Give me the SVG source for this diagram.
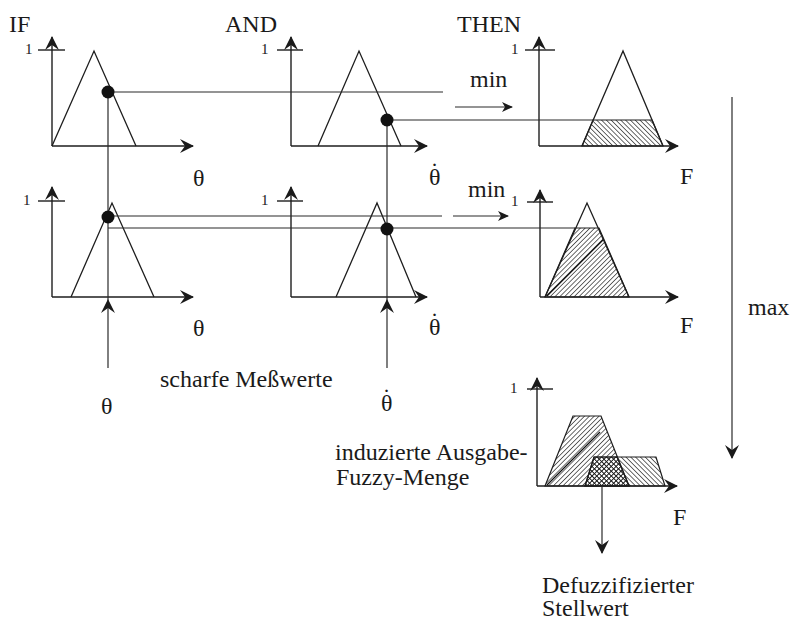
<svg xmlns="http://www.w3.org/2000/svg" width="791" height="621" viewBox="0 0 791 621">
<defs>
<style>
.ax{stroke:#1e1e1e;stroke-width:1.4;fill:none}
.ln{stroke:#2a2a2a;stroke-width:1.2;fill:none}
.tri{stroke:#1e1e1e;stroke-width:1.3;fill:none}
.t{font-family:"Liberation Serif","Times New Roman",serif;font-size:24px;fill:#1a1a1a}
.one{font-family:"Liberation Serif","Times New Roman",serif;font-size:15px;fill:#1a1a1a}
.dot{fill:#111}
</style>
<marker id="ah" viewBox="0 0 14 14" refX="13" refY="7" markerWidth="14" markerHeight="14" markerUnits="userSpaceOnUse" orient="auto"><path d="M0,0 L14,7 L0,14 L5,7 Z" fill="#1a1a1a"/></marker>
<marker id="ahs" viewBox="0 0 11 10" refX="10" refY="5" markerWidth="11" markerHeight="10" markerUnits="userSpaceOnUse" orient="auto"><path d="M0,0 L11,5 L0,10 L3,5 Z" fill="#1a1a1a"/></marker>
<pattern id="hB" width="3.4" height="3.4" patternUnits="userSpaceOnUse" patternTransform="rotate(-45)"><line x1="0" y1="0" x2="0" y2="3.4" stroke="#1a1a1a" stroke-width="1.3"/></pattern>
<pattern id="hF" width="3.4" height="3.4" patternUnits="userSpaceOnUse" patternTransform="rotate(45)"><line x1="0" y1="0" x2="0" y2="3.4" stroke="#1a1a1a" stroke-width="1.3"/></pattern>
</defs>
<rect width="791" height="621" fill="#fff"/>

<g id="headers">
<text class="t" x="9" y="32">IF</text>
<text class="t" x="225" y="32">AND</text>
<text class="t" x="457" y="32">THEN</text>
</g>

<g id="plot-if-1">
<line class="ax" x1="52" y1="146" x2="52" y2="37" marker-end="url(#ah)"/>
<line class="ax" x1="52" y1="146" x2="193" y2="146" marker-end="url(#ah)"/>
<line class="ax" x1="38" y1="50" x2="65" y2="50"/>
<text class="one" x="25" y="54">1</text>
<polyline class="tri" points="52,146 94,51 136,146"/>
<text class="t" x="193" y="186">θ</text>
</g>

<g id="plot-and-1">
<line class="ax" x1="291" y1="146" x2="291" y2="37" marker-end="url(#ah)"/>
<line class="ax" x1="291" y1="146" x2="427" y2="146" marker-end="url(#ah)"/>
<line class="ax" x1="277" y1="50" x2="303" y2="50"/>
<text class="one" x="261" y="54">1</text>
<polyline class="tri" points="318,146 359,51 401,146"/>
<text class="t" x="429" y="185">θ<tspan dx="-10" dy="-6">˙</tspan></text>
</g>

<g id="plot-then-1">
<polygon points="582,146 593,120 652,120 663,146" fill="url(#hB)" stroke="#1e1e1e" stroke-width="1.2"/>
<line class="ax" x1="539" y1="146" x2="539" y2="37" marker-end="url(#ah)"/>
<line class="ax" x1="539" y1="146" x2="678" y2="146" marker-end="url(#ah)"/>
<line class="ax" x1="525" y1="50" x2="555" y2="50"/>
<text class="one" x="511" y="54">1</text>
<polyline class="tri" points="582,146 623,51 663,146"/>
<text class="t" x="680" y="184">F</text>
</g>

<g id="plot-if-2">
<line class="ax" x1="52" y1="297" x2="52" y2="187" marker-end="url(#ah)"/>
<line class="ax" x1="52" y1="297" x2="193" y2="297" marker-end="url(#ah)"/>
<line class="ax" x1="38" y1="201" x2="65" y2="201"/>
<text class="one" x="23" y="205">1</text>
<polyline class="tri" points="71,297 112,203 154,297"/>
<text class="t" x="193" y="336">θ</text>
</g>

<g id="plot-and-2">
<line class="ax" x1="291" y1="297" x2="291" y2="187" marker-end="url(#ah)"/>
<line class="ax" x1="291" y1="297" x2="427" y2="297" marker-end="url(#ah)"/>
<line class="ax" x1="277" y1="201" x2="303" y2="201"/>
<text class="one" x="261" y="205">1</text>
<polyline class="tri" points="336,297 377,203 416,297"/>
<text class="t" x="429" y="335">θ<tspan dx="-10" dy="-6">˙</tspan></text>
</g>

<g id="plot-then-2">
<polygon points="545,297 575,228 599,228 629,297" fill="url(#hF)" stroke="#1e1e1e" stroke-width="1.2"/>
<line x1="547" y1="296" x2="603" y2="240" stroke="#111" stroke-width="1.2"/>
<line class="ax" x1="540" y1="297" x2="540" y2="190" marker-end="url(#ah)"/>
<line class="ax" x1="540" y1="297" x2="678" y2="297" marker-end="url(#ah)"/>
<line class="ax" x1="527" y1="202" x2="553" y2="202"/>
<text class="one" x="511" y="206">1</text>
<polyline class="tri" points="545,297 587,203 629,297"/>
<text class="t" x="680" y="333">F</text>
</g>

<g id="plot-output">
<polygon points="545,486 573,416 601,416 629,486" fill="url(#hF)" stroke="#1e1e1e" stroke-width="1.2"/>
<line x1="547" y1="485" x2="600" y2="432" stroke="#111" stroke-width="1.2"/>
<polygon points="585,486 594,457 656,457 665,486" fill="url(#hB)" stroke="#1e1e1e" stroke-width="1.2"/>
<polygon points="585,486 594,457 617,457 629,486" fill="url(#hF)" stroke="#1e1e1e" stroke-width="1.2"/>
<polygon points="585,486 594,457 617,457 629,486" fill="url(#hB)" stroke="none"/>
<line class="ax" x1="537" y1="486" x2="537" y2="378" marker-end="url(#ah)"/>
<line class="ax" x1="537" y1="486" x2="677" y2="486" marker-end="url(#ah)"/>
<line class="ax" x1="527" y1="389" x2="553" y2="389"/>
<text class="one" x="510" y="393">1</text>
<text class="t" x="673" y="525">F</text>
</g>

<g id="labels">
<text class="t" x="470" y="87">min</text>
<text class="t" x="468" y="197">min</text>
<text class="t" x="748" y="315">max</text>
<text class="t" x="160" y="387">scharfe Meßwerte</text>
<text class="t" x="101" y="414">θ</text>
<text class="t" x="381" y="411">θ<tspan dx="-10" dy="-6">˙</tspan></text>
<text class="t" x="335" y="460">induzierte Ausgabe-</text>
<text class="t" x="336" y="485">Fuzzy-Menge</text>
<text class="t" x="542" y="593">Defuzzifizierter</text>
<text class="t" x="542" y="616">Stellwert</text>
</g>

<g id="connectors">
<line class="ln" x1="108" y1="92" x2="443" y2="92"/>
<line class="ln" x1="387" y1="120" x2="593" y2="120"/>
<line class="ln" x1="108" y1="216" x2="442" y2="216"/>
<line class="ln" x1="108" y1="228" x2="575" y2="228"/>
<line class="ln" x1="108" y1="368" x2="108" y2="300" marker-end="url(#ah)"/>
<line class="ln" x1="108" y1="300" x2="108" y2="92"/>
<line class="ln" x1="387" y1="368" x2="387" y2="300" marker-end="url(#ah)"/>
<line class="ln" x1="387" y1="300" x2="387" y2="120"/>
<line class="ln" x1="455" y1="107" x2="512" y2="107" marker-end="url(#ahs)"/>
<line class="ln" x1="453" y1="216" x2="508" y2="216" marker-end="url(#ahs)"/>
<line class="ln" x1="732" y1="97" x2="732" y2="458" marker-end="url(#ah)"/>
<line class="ln" x1="602" y1="486" x2="602" y2="553" marker-end="url(#ah)"/>
</g>

<g id="dots">
<circle class="dot" cx="108" cy="92" r="6.5"/>
<circle class="dot" cx="387" cy="120" r="6.5"/>
<circle class="dot" cx="108" cy="217" r="6.5"/>
<circle class="dot" cx="387" cy="229" r="6.5"/>
</g>
</svg>
